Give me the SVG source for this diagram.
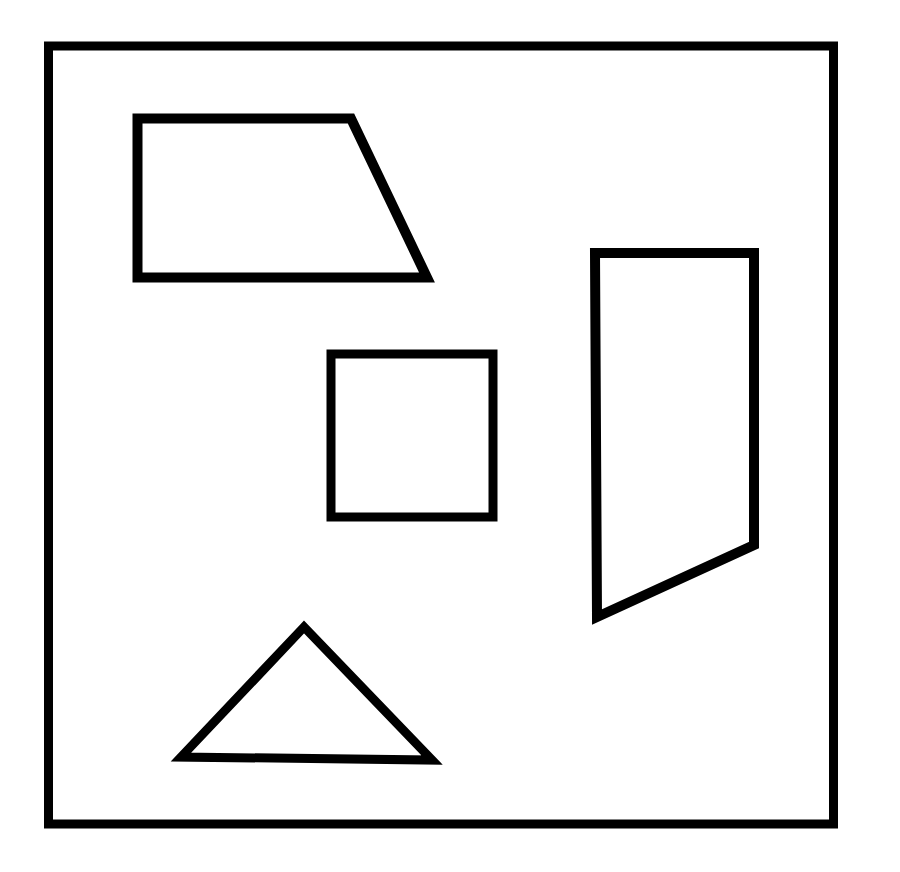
<svg xmlns="http://www.w3.org/2000/svg" width="900" height="872" viewBox="0 0 900 872">
<style>
.s{fill:none;stroke:#000;stroke-linejoin:miter}
</style>
<rect width="900" height="872" fill="#fff"/>
<g id="frame"><rect class="s" x="48.5" y="46" width="785" height="778" stroke-width="9"/></g>
<g id="trapezoid"><polygon class="s" points="137.5,118.5 351,118.5 427,277.5 137.5,277.5" stroke-width="10"/></g>
<g id="square"><rect class="s" x="331" y="354" width="162" height="163" stroke-width="9"/></g>
<g id="quad"><polygon class="s" points="595,253 754,253 754,545 597,617" stroke-width="10"/></g>
<g id="triangle"><polygon class="s" points="304,627 181,757 432,760" stroke-width="9"/></g>
</svg>
